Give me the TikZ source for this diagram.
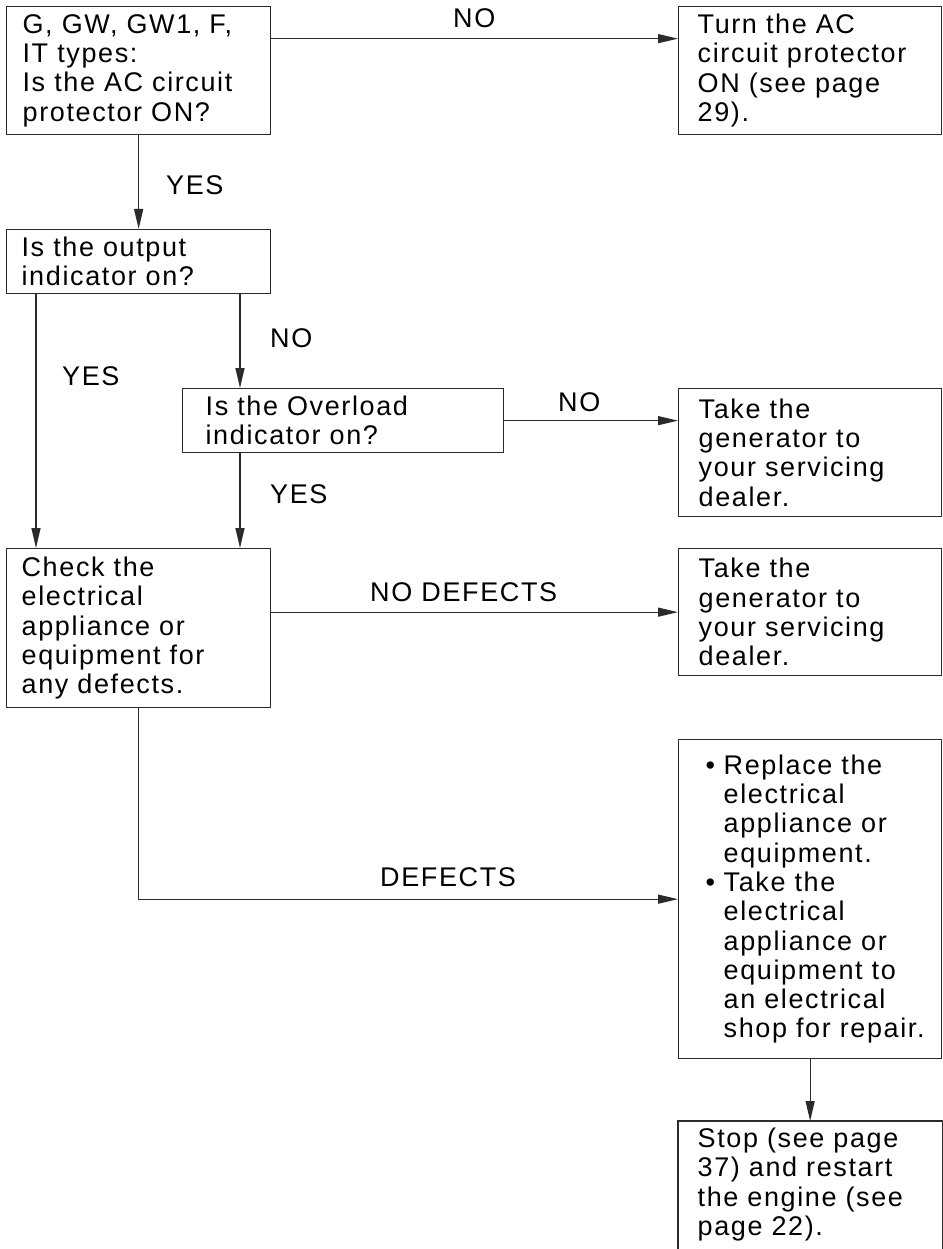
\documentclass[tikz,border=0pt]{standalone}
\usepackage{fontspec}
\setmainfont{Liberation Sans}[LetterSpace=6]
\usetikzlibrary{arrows.meta,calc}
\newcommand\bodyfont{\fontsize{27}{29.3}\selectfont}
\newcommand\blt{\hspace*{19pt}\makebox[18pt][l]{\textbullet}}
\newcommand\cnt{\hspace*{37pt}}
\definecolor{linec}{HTML}{2B2B2B}
\begin{document}
\begin{tikzpicture}[x=1pt,y=-1pt,
  box/.style={draw=linec, line width=1.3pt, align=left, inner ysep=0pt,
    anchor=north west, font=\bodyfont},
  lbl/.style={anchor=base west, inner sep=0pt, font=\bodyfont},
  edge/.style={draw=linec, line width=1.3pt},
  arr/.style={edge, -{Triangle[length=20pt,width=9pt]}}]
\useasboundingbox (0,0) rectangle (942,1249);

\node[box, minimum width=264pt, minimum height=128pt, inner xsep=16pt, text width=232pt] (B1) at (6,6)
  {G, GW, GW1, F,\\IT types:\\Is the AC circuit\\protector ON?};
\node[box, minimum width=263pt, minimum height=128pt, inner xsep=19pt, text width=225pt] (B2) at (678,6)
  {Turn the AC\\circuit protector\\ON (see page\\29).};
\node[box, minimum width=264pt, minimum height=64pt, inner xsep=15pt, text width=234pt] (B3) at (6,229)
  {Is the output\\indicator on?};
\node[box, minimum width=321pt, minimum height=64pt, inner xsep=23pt, text width=275pt] (B4) at (182,388)
  {Is the Overload\\indicator on?};
\node[box, minimum width=263pt, minimum height=128pt, inner xsep=20pt, text width=223pt] (B6) at (678,388)
  {Take the\\generator to\\your servicing\\dealer.};
\node[box, minimum width=264pt, minimum height=159pt, inner xsep=15pt, text width=234pt] (B5) at (6,548)
  {Check the\\electrical\\appliance or\\equipment for\\any defects.};
\node[box, minimum width=263pt, minimum height=127pt, inner xsep=20pt, text width=223pt] (B7) at (678,548)
  {Take the\\generator to\\your servicing\\dealer.};
\node[box, minimum width=263pt, minimum height=319pt, inner xsep=8pt, text width=247pt] (B8) at (678,739)
  {\blt Replace the\\\cnt electrical\\\cnt appliance or\\\cnt equipment.\\\blt Take the\\\cnt electrical\\\cnt appliance or\\\cnt equipment to\\\cnt an electrical\\\cnt shop for repair.};
\node[box, draw=none, minimum width=263pt, minimum height=126pt, inner xsep=19pt, text width=225pt] (B9) at (678,1121)
  {Stop (see page\\37) and restart\\the engine (see\\page 22).};
\draw[edge] ([yshift=-20pt]B9.south west) -- (B9.north west) -- (B9.north east) -- ([yshift=-20pt]B9.south east);

\draw[arr] ([yshift=32pt]B1.east) -- ([yshift=32pt]B2.west);
\draw[arr] (B1.south) -- (B3.north);
\draw[arr] ([xshift=30pt]B3.south west) -- ([xshift=30pt]B5.north west);
\draw[arr] ([xshift=234pt]B3.south west) -- ([xshift=58pt]B4.north west);
\draw[arr] (B4.east) -- (B4.east -| B6.west);
\draw[arr] ([xshift=58pt]B4.south west) -- ([xshift=234pt]B5.north west);
\draw[arr] (B5.east |- B7.west) -- (B7.west);
\draw[arr] (B5.south) |- (B8.west);
\draw[arr] (B8.south) -- (B9.north);

\node[lbl] (L1) at (453,28) {NO};
\node[lbl] (L2) at (166,195) {YES};
\node[lbl] (L3) at (62,385) {YES};
\node[lbl] (L4) at (270,347) {NO};
\node[lbl] (L5) at (558,411) {NO};
\node[lbl] (L6) at (270,503) {YES};
\node[lbl] (L7) at (370,601) {NO DEFECTS};
\node[lbl] (L8) at (380,886) {DEFECTS};
\end{tikzpicture}
\end{document}
